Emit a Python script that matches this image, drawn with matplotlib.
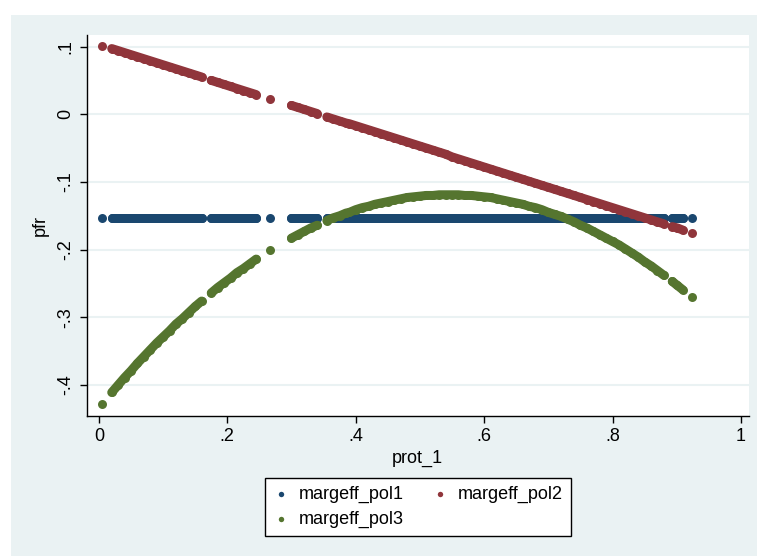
import matplotlib
matplotlib.use("Agg")
import numpy as np
import matplotlib.pyplot as plt
from matplotlib.patches import Rectangle

plt.rcParams['font.family'] = ['Liberation Sans', 'DejaVu Sans']

# x values (prot_1)
prot_1 = [0.005, 0.02, 0.03, 0.04, 0.05, 0.06, 0.07, 0.08, 0.09, 0.10,
          0.11, 0.12, 0.13, 0.14, 0.15, 0.16, 0.175, 0.185, 0.195, 0.205,
          0.215, 0.225, 0.235, 0.245, 0.267, 0.30, 0.31, 0.32, 0.33, 0.34,
          0.355, 0.365, 0.375, 0.385, 0.39, 0.40, 0.41, 0.42, 0.43, 0.44, 0.45,
          0.46, 0.47, 0.48, 0.49, 0.50, 0.51, 0.52, 0.53, 0.54, 0.55,
          0.56, 0.57, 0.58, 0.59, 0.60, 0.61, 0.62, 0.63, 0.64, 0.65,
          0.66, 0.67, 0.68, 0.69, 0.70, 0.71, 0.72, 0.73, 0.74, 0.75,
          0.76, 0.77, 0.78, 0.79, 0.80, 0.81, 0.82, 0.83, 0.84, 0.85,
          0.86, 0.87, 0.88, 0.893, 0.901, 0.909, 0.923]

margeff_pol1 = [-0.153] * len(prot_1)

margeff_pol2 = [0.101, 0.097, 0.094, 0.091, 0.088, 0.085, 0.082, 0.079, 0.076, 0.073,
                0.070, 0.067, 0.064, 0.061, 0.058, 0.055, 0.050, 0.047, 0.044, 0.041,
                0.038, 0.035, 0.032, 0.029, 0.023, 0.013, 0.010, 0.007, 0.004, 0.001,
                -0.004, -0.007, -0.010, -0.013, -0.014, -0.017, -0.020, -0.023, -0.026, -0.029, -0.032,
                -0.035, -0.038, -0.041, -0.044, -0.047, -0.050, -0.053, -0.056, -0.059, -0.063,
                -0.066, -0.069, -0.072, -0.075, -0.078, -0.081, -0.084, -0.087, -0.090, -0.093,
                -0.096, -0.099, -0.102, -0.105, -0.108, -0.111, -0.114, -0.117, -0.120, -0.123,
                -0.126, -0.129, -0.132, -0.135, -0.138, -0.141, -0.144, -0.147, -0.150, -0.153,
                -0.156, -0.159, -0.162, -0.166, -0.168, -0.171, -0.175]

margeff_pol3 = [-0.428, -0.411, -0.400, -0.389, -0.379, -0.368, -0.358, -0.348, -0.338, -0.329,
                -0.320, -0.310, -0.302, -0.293, -0.284, -0.276, -0.264, -0.256, -0.249, -0.242,
                -0.234, -0.228, -0.221, -0.214, -0.201, -0.183, -0.178, -0.173, -0.168, -0.164,
                -0.157, -0.153, -0.150, -0.146, -0.145, -0.141, -0.138, -0.136, -0.133, -0.131, -0.129,
                -0.127, -0.125, -0.123, -0.122, -0.121, -0.120, -0.120, -0.119, -0.119, -0.119,
                -0.119, -0.120, -0.120, -0.121, -0.122, -0.123, -0.125, -0.127, -0.129, -0.131,
                -0.133, -0.136, -0.138, -0.141, -0.145, -0.148, -0.151, -0.155, -0.159, -0.164,
                -0.168, -0.173, -0.178, -0.183, -0.188, -0.193, -0.199, -0.205, -0.211, -0.218,
                -0.224, -0.231, -0.238, -0.247, -0.253, -0.259, -0.270]

x_ticks = [0, 0.2, 0.4, 0.6, 0.8, 1]
x_labels = ['0', '.2', '.4', '.6', '.8', '1']
y_ticks = [-0.4, -0.3, -0.2, -0.1, 0, 0.1]
y_labels = ['-.4', '-.3', '-.2', '-.1', '0', '.1']

bg = '#EAF2F3'
msize = 42  # marker area (pt^2)


def runs(x, y, gap=0.0125):
    # break the band where the observations are sparse
    xs, ys = [x[0]], [y[0]]
    for i in range(1, len(x)):
        if x[i] - x[i - 1] > gap:
            xs.append(np.nan)
            ys.append(np.nan)
        xs.append(x[i])
        ys.append(y[i])
    return xs, ys


fig = plt.figure(figsize=(7.57, 5.56), dpi=100, facecolor=bg)
# white strips at the top and the left edge
fig.patches.append(Rectangle((0, 1 - 15 / 556), 1, 15 / 556, transform=fig.transFigure,
                             facecolor='white', edgecolor='none'))
fig.patches.append(Rectangle((0, 0), 11 / 757, 1, transform=fig.transFigure,
                             facecolor='white', edgecolor='none'))

ax = fig.add_axes([0.1145, 0.2518, 0.8749, 0.6852])
ax.set_facecolor('white')

handles = []
series = [(margeff_pol1, '#1A476F', 'margeff_pol1'),
          (margeff_pol2, '#90353B', 'margeff_pol2'),
          (margeff_pol3, '#55752F', 'margeff_pol3')]
for k, (vals, col, lab) in enumerate(series):
    xs, ys = runs(prot_1, vals)
    ax.plot(xs, ys, color=col, linewidth=np.sqrt(msize), solid_capstyle='round',
            zorder=3 + k)
    h = ax.scatter(prot_1, vals, s=msize, color=col, label=lab, zorder=3 + k, linewidths=0)
    handles.append(h)

ax.set_xlim(-0.019, 1.0125)
ax.set_ylim(-0.4458, 0.117)
ax.set_xticks(x_ticks)
ax.set_xticklabels(x_labels, fontsize=13)
ax.set_yticks(y_ticks)
ax.set_yticklabels(y_labels, fontsize=13, rotation=90, va='center')
ax.tick_params(direction='out', length=5, width=1, pad=4)
for y in y_ticks:
    ax.axhline(y, color=bg, linewidth=1.5, zorder=1)

for s in ['top', 'right']:
    ax.spines[s].set_visible(False)
for s in ['left', 'bottom']:
    ax.spines[s].set_linewidth(1)

ax.set_xlabel('prot_1', fontsize=13, labelpad=3)
ax.set_ylabel('pfr', fontsize=13, labelpad=6)

# row-wise order as in the original: pol1, pol2 / pol3
p1, p2, p3 = handles
leg = fig.legend([p1, p3, p2], ['margeff_pol1', 'margeff_pol3', 'margeff_pol2'],
                 loc='center', bbox_to_anchor=(418 / 757, 1 - 507 / 556), ncol=2,
                 fontsize=13, markerscale=0.6, frameon=True, fancybox=False,
                 edgecolor='black', framealpha=1, handlelength=0.8, handletextpad=0.6,
                 columnspacing=1.6, borderpad=0.45, labelspacing=0.45)
leg.get_frame().set_linewidth(1)

fig.savefig('out.png', dpi=100, facecolor=bg)
